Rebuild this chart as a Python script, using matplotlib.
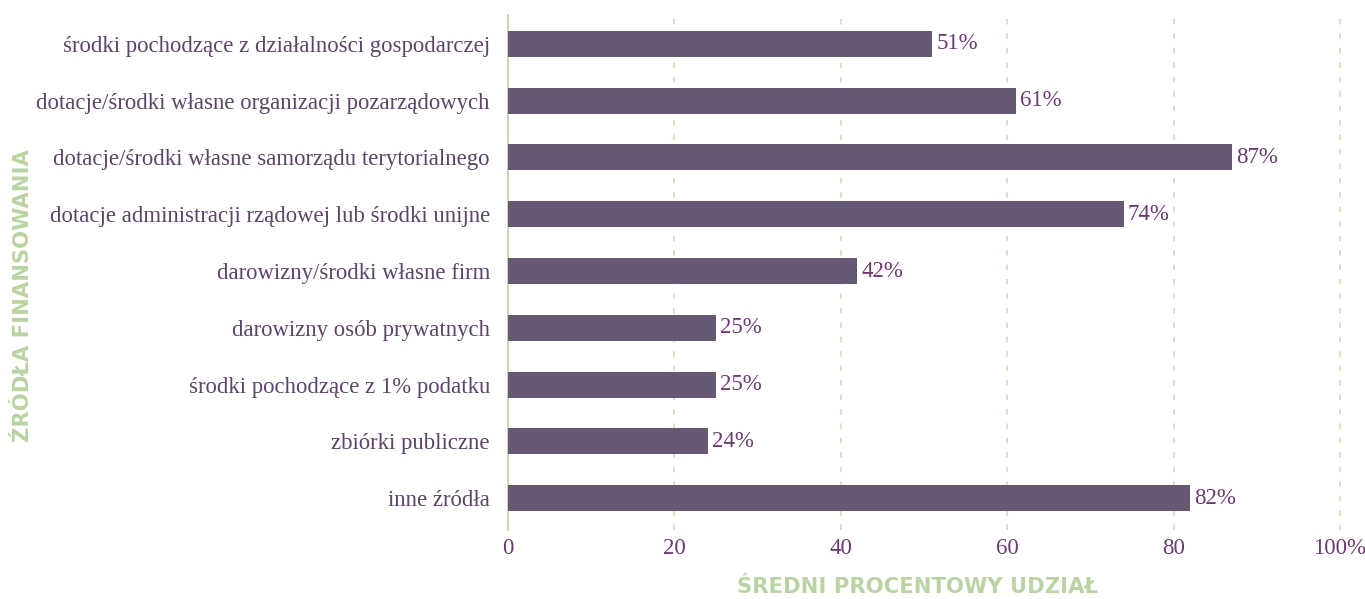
import numpy as np
import matplotlib.pyplot as plt

categories = [
    "środki pochodzące z działalności gospodarczej",
    "dotacje/środki własne organizacji pozarządowych",
    "dotacje/środki własne samorządu terytorialnego",
    "dotacje administracji rządowej lub środki unijne",
    "darowizny/środki własne firm",
    "darowizny osób prywatnych",
    "środki pochodzące z 1% podatku",
    "zbiórki publiczne",
    "inne źródła",
]
values = [51, 61, 87, 74, 42, 25, 25, 24, 82]
xticks = [0, 20, 40, 60, 80, 100]
xtick_labels = ["0", "20", "40", "60", "80", "100%"]

bar_color = "#665872"
text_color = "#6b3a73"
label_color = "#5e4468"
green = "#b9d4a2"
grid_green = "#cfe0bf"
serif = "Liberation Serif"

fig = plt.figure(figsize=(13.65, 5.99), dpi=100)
ax = fig.add_axes([0.3722, 0.1152, 0.6095, 0.86])

y = np.arange(len(categories))
ax.barh(y, values, height=0.46, color=bar_color, zorder=3)
for yi, v in zip(y, values):
    ax.text(v + 0.5, yi, f"{v}%", va="center", ha="left",
            fontsize=16.5, color=text_color, family=serif)

ax.set_ylim(8.56, -0.51)
ax.set_xlim(0, 100)
ax.set_yticks(y)
ax.set_yticklabels(categories, fontsize=16.4, color=label_color, family=serif)
ax.set_xticks(xticks)
ax.set_xticklabels(xtick_labels, fontsize=16.5, color=text_color, family=serif)
ax.tick_params(axis="y", length=0, pad=13)
ax.tick_params(axis="x", length=0, pad=6)

for x in xticks[1:]:
    ax.axvline(x, color=grid_green, linestyle=(0, (3, 5)), linewidth=1.3,
               zorder=1, clip_on=False)
for s in ["top", "right", "bottom"]:
    ax.spines[s].set_visible(False)
ax.spines["left"].set_color(green)
ax.spines["left"].set_linewidth(1.2)

fig.text(0.6725, 0.003, "ŚREDNI PROCENTOWY UDZIAŁ", fontsize=15.2,
         color=green, fontweight="bold", family="DejaVu Sans",
         ha="center", va="bottom")
fig.text(0.0165, 0.507, "ŹRÓDŁA FINANSOWANIA", rotation=90, fontsize=15.2,
         color=green, fontweight="bold", family="DejaVu Sans",
         ha="center", va="center")

fig.savefig("out.png", dpi=100)
